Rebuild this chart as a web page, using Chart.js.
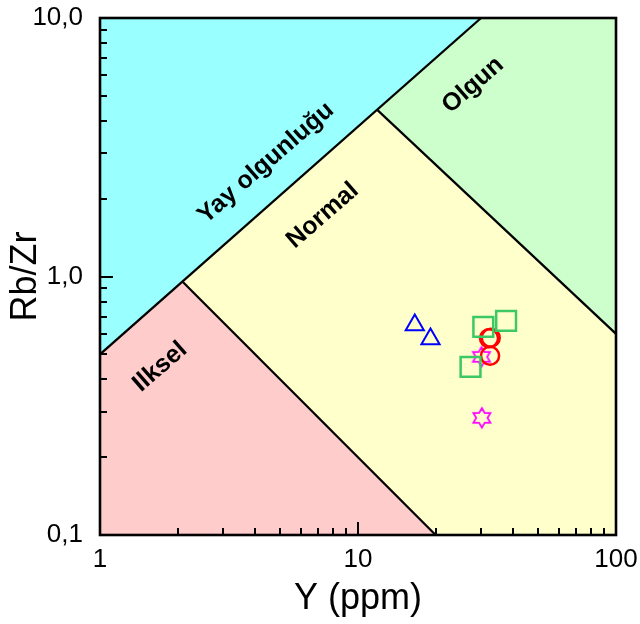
<!DOCTYPE html>
<html>
<head>
<meta charset="utf-8">
<script src="https://cdn.jsdelivr.net/npm/chart.js@4"></script>
<style>
  html, body { margin: 0; padding: 0; background: #fff; }
  #wrap { width: 640px; height: 624px; }
</style>
</head>
<body>
<div id="wrap"><canvas id="c" width="640" height="624"></canvas></div>
<script>
// Axis ticks (log decades) and their printed labels
const xTickValues = [1, 2, 3, 4, 5, 6, 7, 8, 9, 10, 20, 30, 40, 50, 60, 70, 80, 90, 100];
const yTickValues = [0.1, 0.2, 0.3, 0.4, 0.5, 0.6, 0.7, 0.8, 0.9, 1, 2, 3, 4, 5, 6, 7, 8, 9, 10];
const xMajor = [1, 10, 100];
const xMajorLabels = ['1', '10', '100'];
const yMajor = [0.1, 1, 10];
const yMajorLabels = ['0,1', '1,0', '10,0'];

// Field outlines in (Y ppm, Rb/Zr)
const fieldYay = [[1, 0.5], [30, 10], [1, 10]];
const fieldOlgun = [[30, 10], [100, 10], [100, 0.6], [11.9, 4.4]];
const fieldNormal = [[2.1, 0.95], [11.9, 4.4], [100, 0.6], [100, 0.1], [20, 0.1]];
const fieldIlksel = [[1, 0.5], [2.1, 0.95], [20, 0.1], [1, 0.1]];

// Field boundaries
const lineUpper = [[1, 0.5], [30, 10]];
const lineLower = [[2.1, 0.95], [20, 0.1]];
const lineRight = [[11.9, 4.4], [100, 0.6]];

// Field names
const fieldNames = ['Yay olgunluğu', 'Normal', 'Olgun', 'Ilksel'];
const fieldNameX = [4.4, 7.3, 27.9, 1.71];
const fieldNameY = [2.75, 1.72, 5.5, 0.447];

// Samples
const triX = [16.6, 19.1];
const triY = [0.649, 0.573];
const sqX = [30.6, 37.5, 27.3];
const sqY = [0.638, 0.673, 0.447];
const circX = [32.2, 32.7, 32.5];
const circY = [0.577, 0.58, 0.494];
const starX = [30.1, 30.2];
const starY = [0.489, 0.284];

const toPts = arr => arr.map(([x, y]) => ({ x, y }));
const zipPts = (xs, ys) => xs.map((x, i) => ({ x, y: ys[i] }));

// Six-pointed star outline used as a point marker
function makeStar(color) {
  const c = document.createElement('canvas');
  c.width = 24; c.height = 24;
  const g = c.getContext('2d');
  const R = 9.8, r = R / Math.sqrt(3);
  g.beginPath();
  for (let i = 0; i < 12; i++) {
    const a = -Math.PI / 2 + i * Math.PI / 6;
    const rr = i % 2 === 0 ? R : r;
    const px = 12 + rr * Math.cos(a), py = 12 + rr * Math.sin(a);
    if (i === 0) g.moveTo(px, py); else g.lineTo(px, py);
  }
  g.closePath();
  g.strokeStyle = color;
  g.lineWidth = 1.8;
  g.stroke();
  return c;
}

const FONT = '"Liberation Sans", Arial, Helvetica, sans-serif';

const fieldSet = (pts, color) => ({
  type: 'line', data: toPts(pts), fill: 'shape', backgroundColor: color,
  borderWidth: 0, pointRadius: 0, tension: 0, order: 3
});
const boundSet = pts => ({
  type: 'line', data: toPts(pts), fill: false, borderColor: '#000',
  borderWidth: 2.2, pointRadius: 0, tension: 0, order: 2
});

const decor = {
  id: 'decor',
  afterDatasetsDraw(chart) {
    const { ctx, chartArea: a, scales: { x, y } } = chart;
    ctx.save();
    // field names along the boundaries
    ctx.font = 'bold 25px ' + FONT;
    ctx.fillStyle = '#000';
    ctx.textAlign = 'center';
    ctx.textBaseline = 'middle';
    fieldNames.forEach((n, i) => {
      ctx.save();
      ctx.translate(x.getPixelForValue(fieldNameX[i]), y.getPixelForValue(fieldNameY[i]));
      ctx.rotate(-41 * Math.PI / 180);
      ctx.fillText(n, 0, 0);
      ctx.restore();
    });
    // inward tick marks on left and bottom
    ctx.strokeStyle = '#000';
    ctx.lineWidth = 2;
    ctx.beginPath();
    xTickValues.forEach(v => {
      const px = Math.round(x.getPixelForValue(v));
      const len = xMajor.includes(v) ? 13 : 7;
      ctx.moveTo(px, a.bottom); ctx.lineTo(px, a.bottom - len);
    });
    yTickValues.forEach(v => {
      const py = Math.round(y.getPixelForValue(v));
      const len = yMajor.includes(v) ? 13 : 7;
      ctx.moveTo(a.left, py); ctx.lineTo(a.left + len, py);
    });
    ctx.stroke();
    // frame
    ctx.lineWidth = 2.6;
    ctx.strokeRect(a.left, a.top, a.right - a.left, a.bottom - a.top);
    ctx.restore();
  }
};

new Chart(document.getElementById('c'), {
  type: 'line',
  data: {
    datasets: [
      { type: 'scatter', data: zipPts(triX, triY), pointStyle: 'triangle', pointRadius: 10.5,
        borderColor: '#0000FF', backgroundColor: 'rgba(0,0,0,0)', borderWidth: 2, order: 1 },
      { type: 'scatter', data: zipPts(sqX, sqY), pointStyle: 'rect', pointRadius: 14,
        borderColor: '#3CC864', backgroundColor: 'rgba(0,0,0,0)', borderWidth: 2.5, order: 1 },
      { type: 'scatter', data: zipPts(circX, circY), pointStyle: 'circle', pointRadius: 9,
        borderColor: '#FF0000', backgroundColor: 'rgba(0,0,0,0)', borderWidth: 2.5, order: 1 },
      { type: 'scatter', data: zipPts(starX, starY), pointStyle: makeStar('#FF00FF'), pointRadius: 10,
        borderColor: '#FF00FF', backgroundColor: 'rgba(0,0,0,0)', order: 1 },
      boundSet(lineUpper),
      boundSet(lineLower),
      boundSet(lineRight),
      fieldSet(fieldYay, '#99FFFF'),
      fieldSet(fieldOlgun, '#CCFFCC'),
      fieldSet(fieldNormal, '#FFFFCC'),
      fieldSet(fieldIlksel, '#FFCCCC')
    ]
  },
  options: {
    responsive: false,
    animation: false,
    devicePixelRatio: 1,
    layout: { padding: { top: 18, right: 24, left: 0, bottom: 0 } },
    plugins: { legend: { display: false }, tooltip: { enabled: false } },
    events: [],
    scales: {
      x: {
        type: 'logarithmic', min: 1, max: 100,
        border: { display: false },
        grid: { display: false, drawTicks: false },
        afterFit: s => { s.height = 89; s.paddingLeft = 0; s.paddingRight = 0; },
        afterBuildTicks: s => { s.ticks = xTickValues.map(v => ({ value: v })); },
        ticks: {
          autoSkip: false, maxRotation: 0, padding: 9, color: '#000',
          font: { family: FONT, size: 26 },
          callback: v => { const i = xMajor.indexOf(v); return i >= 0 ? xMajorLabels[i] : ''; }
        },
        title: { display: true, text: 'Y (ppm)', color: '#000',
          font: { family: FONT, size: 36 }, padding: { top: 0, bottom: 3 } }
      },
      y: {
        type: 'logarithmic', min: 0.1, max: 10,
        border: { display: false },
        grid: { display: false, drawTicks: false },
        afterFit: s => { s.width = 100; s.paddingTop = 0; s.paddingBottom = 0; },
        afterBuildTicks: s => { s.ticks = yTickValues.map(v => ({ value: v })); },
        ticks: {
          autoSkip: false, padding: 17, color: '#000',
          font: { family: FONT, size: 26 },
          callback: v => { const i = yMajor.indexOf(v); return i >= 0 ? yMajorLabels[i] : ''; }
        },
        title: { display: true, text: 'Rb/Zr', color: '#000',
          font: { family: FONT, size: 36 }, padding: { top: 4, bottom: 0 } }
      }
    }
  },
  plugins: [decor]
});
</script>
</body>
</html>
